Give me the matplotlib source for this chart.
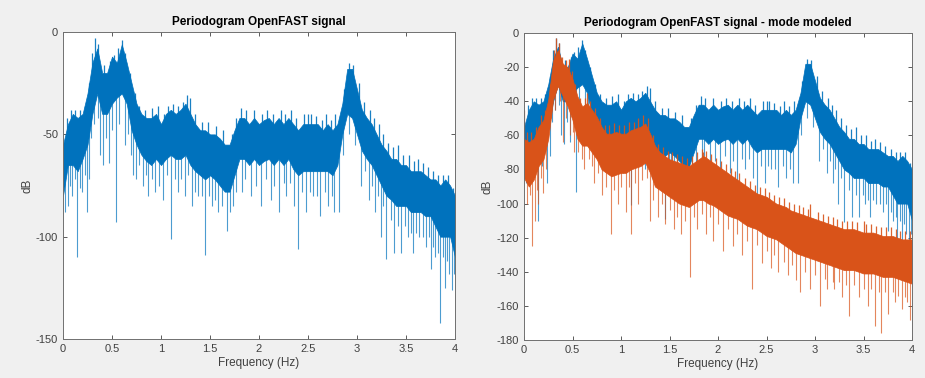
import numpy as np
import matplotlib
matplotlib.use("Agg")
import matplotlib.pyplot as plt

# --------------------------------------------------------
# DATA (dB)
# --------------------------------------------------------

freq = np.linspace(0, 4, 81)  # 0.05 Hz steps

# OpenFAST signal: top / bottom of the dense band
sig_top = [-55, -45, -40, -42, -40, -30, -15, -8, -20, -20,
           -12, -15, -6, -15, -25, -35, -40, -42, -42, -40,
           -45, -40, -38, -40, -38, -35, -40, -45, -48, -48,
           -50, -50, -52, -55, -55, -48, -42, -42, -45, -42,
           -45, -43, -42, -45, -42, -45, -42, -45, -48, -45,
           -45, -45, -45, -48, -45, -48, -45, -35, -18, -18,
           -28, -38, -42, -45, -50, -55, -58, -62, -62, -65,
           -65, -68, -68, -68, -70, -72, -72, -75, -72, -75,
           -80]
sig_bot = [-80, -65, -65, -68, -62, -55, -40, -30, -40, -40,
           -35, -32, -30, -35, -48, -55, -60, -63, -65, -62,
           -65, -62, -60, -62, -62, -60, -65, -68, -70, -72,
           -70, -72, -75, -78, -78, -70, -62, -62, -65, -62,
           -65, -63, -62, -65, -62, -65, -62, -67, -70, -68,
           -68, -68, -68, -68, -68, -70, -65, -50, -40, -42,
           -50, -58, -62, -65, -70, -75, -80, -82, -85, -85,
           -85, -88, -88, -88, -90, -90, -95, -100, -100, -100,
           -110]
# downward spikes
sig_dip_f = [0.02, 0.05, 0.09, 0.14, 0.19, 0.24, 0.27, 0.38, 0.41, 0.47,
             0.54, 0.63, 0.71, 0.75, 0.82, 0.87, 0.94, 1.02, 1.10, 1.17,
             1.25, 1.32, 1.38, 1.45, 1.52, 1.58, 1.67, 1.73, 1.83, 1.92,
             2.02, 2.12, 2.20, 2.28, 2.36, 2.40, 2.48, 2.55, 2.62, 2.70,
             2.77, 2.82, 3.04, 3.12, 3.18, 3.24, 3.30, 3.38, 3.45, 3.52,
             3.57, 3.63, 3.70, 3.75, 3.80, 3.85, 3.90, 3.94, 3.97,
             0.07, 0.12, 0.17, 0.22, 0.29, 0.32, 0.36, 0.44, 0.50, 0.57,
             0.66, 0.69, 0.78, 0.85, 0.91, 0.98, 1.06, 1.14, 1.20, 1.28,
             1.35, 1.42, 1.49, 1.55, 1.62, 1.70, 1.77, 1.86, 1.97, 2.07,
             2.15, 2.25, 2.32, 2.44, 2.52, 2.59, 2.67, 2.74, 2.86, 2.92,
             2.98, 3.08, 3.15, 3.21, 3.27, 3.35, 3.42, 3.49, 3.55, 3.60,
             3.67, 3.73, 3.78, 3.83, 3.88, 3.92, 3.99]
sig_dip_db = [-88, -85, -80, -110, -78, -88, -72, -60, -65, -64,
              -93, -55, -70, -72, -75, -80, -78, -82, -101, -78,
              -80, -85, -80, -109, -85, -88, -97, -85, -78, -80,
              -85, -82, -88, -80, -85, -106, -88, -80, -90, -85,
              -88, -88, -75, -82, -88, -100, -111, -108, -108, -100,
              -108, -100, -105, -116, -110, -142, -125, -118, -126,
              -75, -72, -76, -70, -52, -45, -42, -52, -48, -45,
              -50, -60, -65, -70, -72, -75, -70, -72, -72, -70,
              -78, -80, -80, -82, -85, -88, -78, -72, -75, -72,
              -75, -74, -74, -78, -78, -80, -78, -80, -60, -50,
              -55, -68, -75, -80, -85, -92, -95, -95, -98, -98,
              -100, -100, -105, -108, -110, -112, -118]
# upward spikes
sig_peak_f = [0.12, 0.22, 0.33, 0.52, 0.60, 1.12, 1.30, 1.82, 2.22, 2.50,
              2.92, 3.22, 3.42, 3.62, 3.88,
              0.04, 0.08, 0.17, 0.27, 0.30, 0.36, 0.42, 0.48, 0.56, 0.63,
              0.68, 0.73, 0.78, 0.84, 0.91, 0.97, 1.03, 1.07, 1.17, 1.22,
              1.27, 1.35, 1.42, 1.48, 1.56, 1.63, 1.72, 1.77, 1.87, 1.95,
              2.03, 2.08, 2.14, 2.27, 2.33, 2.38, 2.46, 2.53, 2.58, 2.64,
              2.68, 2.73, 2.78, 2.87, 2.96, 3.02, 3.07, 3.13, 3.17, 3.27,
              3.32, 3.37, 3.47, 3.53, 3.58, 3.67, 3.72, 3.78, 3.83, 3.93,
              3.98]
sig_peak_db = [-38, -36, -3, -11, -4, -35, -32, -37, -38, -40,
               -15, -45, -55, -62, -70,
               -42, -38, -38, -25, -10, -6, -16, -14, -8, -10,
               -20, -30, -36, -38, -37, -36, -40, -36, -36, -34,
               -31, -40, -44, -44, -46, -48, -50, -42, -38, -38,
               -40, -38, -40, -40, -38, -42, -40, -40, -41, -43,
               -40, -43, -40, -28, -16, -25, -34, -38, -42, -50,
               -54, -56, -60, -60, -63, -64, -66, -68, -70, -70,
               -76]

# mode modeled signal
mod_top = [-62, -64, -62, -55, -51, -39, -16, -10, -18, -20,
           -27, -37, -43, -41, -45, -49, -55, -59, -59, -58,
           -59, -59, -57, -56, -55, -53, -59, -66, -70, -72,
           -74, -75, -76, -77, -78, -76, -74, -72, -74, -76,
           -78, -80, -82, -84, -86, -88, -90, -92, -94, -95,
           -96, -98, -100, -101, -102, -104, -105, -106, -107, -108,
           -109, -110, -111, -112, -113, -114, -115, -115, -115, -116,
           -117, -117, -117, -118, -119, -119, -119, -120, -121, -121,
           -121]
mod_bot = [-85, -90, -86, -78, -74, -62, -39, -31, -37, -43,
           -51, -62, -66, -66, -70, -74, -80, -82, -84, -83,
           -82, -82, -80, -79, -78, -76, -82, -90, -92, -94,
           -96, -98, -100, -101, -102, -100, -98, -98, -100, -101,
           -103, -105, -107, -108, -109, -111, -113, -114, -115, -117,
           -119, -120, -121, -123, -125, -127, -129, -130, -131, -132,
           -133, -134, -135, -136, -137, -138, -139, -139, -139, -140,
           -141, -141, -141, -142, -143, -143, -143, -144, -145, -146,
           -147]
mod_dip_f = [0.03, 0.08, 0.11, 0.14, 0.20, 0.40, 0.47, 0.52, 0.62, 0.72,
             0.80, 0.90, 0.97, 1.05, 1.10, 1.18, 1.30, 1.38, 1.45, 1.55,
             1.62, 1.71, 1.78, 1.88, 1.95, 2.05, 2.15, 2.25, 2.35, 2.45,
             2.55, 2.62, 2.72, 2.80, 2.85, 2.95, 3.05, 3.12, 3.20, 3.28,
             3.35, 3.45, 3.55, 3.62, 3.68, 3.75, 3.82, 3.90, 3.95, 3.98,
             0.06, 0.13, 0.17, 0.23, 0.28, 0.32, 0.37, 0.43, 0.50, 0.56,
             0.60, 0.67, 0.70, 0.76, 0.84, 0.93, 1.00, 1.08, 1.14, 1.22,
             1.27, 1.33, 1.42, 1.50, 1.58, 1.66, 1.75, 1.83, 1.92, 2.00,
             2.10, 2.20, 2.30, 2.40, 2.50, 2.58, 2.68, 2.76, 2.90, 3.00,
             3.10, 3.18, 3.25, 3.32, 3.40, 3.50, 3.58, 3.66, 3.72, 3.80,
             3.86, 3.93]
mod_dip_db = [-100, -125, -110, -100, -94, -64, -60, -70, -80, -88,
              -95, -118, -100, -105, -118, -100, -110, -108, -112, -115,
              -118, -143, -115, -118, -122, -128, -125, -130, -150, -135,
              -138, -140, -142, -145, -152, -150, -160, -150, -150, -155,
              -166, -155, -160, -172, -176, -165, -158, -162, -158, -168,
              -95, -92, -85, -80, -50, -45, -40, -50, -58, -70,
              -74, -74, -78, -82, -90, -92, -90, -90, -88, -86,
              -85, -98, -100, -104, -108, -110, -108, -106, -108, -112,
              -115, -118, -122, -124, -128, -130, -134, -136, -140, -142,
              -144, -146, -146, -148, -148, -150, -150, -152, -152, -152,
              -154, -155]
mod_peak_f = [0.00, 0.33, 0.46, 0.65, 1.28, 1.85, 2.22, 2.95, 3.50,
              0.03, 0.07, 0.12, 0.17, 0.22, 0.27, 0.31, 0.36, 0.39, 0.43,
              0.49, 0.53, 0.58, 0.63, 0.68, 0.73, 0.78, 0.83, 0.88, 0.93,
              0.98, 1.03, 1.08, 1.13, 1.18, 1.23, 1.33, 1.38, 1.43, 1.48,
              1.53, 1.58, 1.63, 1.68, 1.73, 1.78, 1.83, 1.88, 1.93, 1.98,
              2.03, 2.08, 2.13, 2.18, 2.28, 2.33, 2.38, 2.43, 2.48, 2.53,
              2.58, 2.63, 2.68, 2.73, 2.78, 2.83, 2.88, 2.93, 3.03, 3.08,
              3.13, 3.18, 3.23, 3.28, 3.33, 3.38, 3.43, 3.53, 3.58, 3.63,
              3.68, 3.73, 3.78, 3.83, 3.88, 3.93, 3.98]
mod_peak_db = [-45, -3, -15, -35, -50, -70, -82, -100, -110,
               -58, -58, -55, -48, -45, -30, -10, -6, -14, -16,
               -22, -30, -38, -38, -40, -44, -50, -54, -54, -53,
               -54, -54, -52, -52, -50, -48, -60, -65, -67, -69,
               -70, -71, -72, -73, -72, -70, -68, -69, -71, -73,
               -75, -77, -79, -81, -85, -87, -89, -90, -91, -93,
               -95, -96, -97, -99, -100, -101, -102, -103, -105, -106,
               -107, -108, -109, -110, -110, -110, -111, -112, -112, -113,
               -114, -114, -114, -115, -116, -116, -116]

BLUE = "#0072BD"
ORANGE = "#D95319"


def draw_series(ax, top, bot, dip_f, dip_db, peak_f, peak_db, color):
    top = np.array(top, float)
    bot = np.array(bot, float)
    ax.fill_between(freq, bot, top, color=color, lw=0.5, zorder=2)
    # spikes start inside the band
    mid = (top + bot) / 2
    dip_f = np.array(dip_f)
    peak_f = np.array(peak_f)
    ax.vlines(dip_f, dip_db, np.interp(dip_f, freq, mid), color=color,
              lw=0.8, alpha=0.7, zorder=2)
    ax.vlines(peak_f, np.interp(peak_f, freq, mid), peak_db, color=color,
              lw=0.9, alpha=0.9, zorder=2)


def style_axes(ax, ylim, yticks, title):
    ax.set_xlim(0, 4)
    ax.set_ylim(*ylim)
    ax.set_xticks(np.arange(0, 4.01, 0.5))
    ax.set_xticklabels(["0", "0.5", "1", "1.5", "2", "2.5", "3", "3.5", "4"])
    ax.set_yticks(yticks)
    ax.tick_params(direction="in", top=True, right=True, length=3,
                   labelsize=8, colors="#404040", width=0.6)
    for s in ax.spines.values():
        s.set_color("#707070")
        s.set_linewidth(0.7)
    ax.set_xlabel("Frequency (Hz)", fontsize=8.5, color="#404040", labelpad=2)
    ax.set_ylabel("dB", fontsize=8.5, color="#404040", labelpad=2)
    ax.set_title(title, fontsize=8.5, fontweight="bold", pad=5)


plt.rcParams["font.family"] = ["Liberation Sans", "DejaVu Sans"]
plt.rcParams["axes.unicode_minus"] = False

fig = plt.figure(figsize=(9.25, 3.78), dpi=100, facecolor="#f0f0f0")
ax1 = fig.add_axes([0.0681, 0.1032, 0.4238, 0.812])
ax2 = fig.add_axes([0.5665, 0.1005, 0.4195, 0.812])

draw_series(ax1, sig_top, sig_bot, sig_dip_f, sig_dip_db,
            sig_peak_f, sig_peak_db, BLUE)
style_axes(ax1, (-150, 0), [-150, -100, -50, 0], "Periodogram OpenFAST signal")

draw_series(ax2, sig_top, sig_bot, sig_dip_f, sig_dip_db,
            sig_peak_f, sig_peak_db, BLUE)
draw_series(ax2, mod_top, mod_bot, mod_dip_f, mod_dip_db,
            mod_peak_f, mod_peak_db, ORANGE)
style_axes(ax2, (-180, 0), np.arange(-180, 1, 20),
           "Periodogram OpenFAST signal - mode modeled")

fig.savefig("out.png", dpi=100, facecolor=fig.get_facecolor())
